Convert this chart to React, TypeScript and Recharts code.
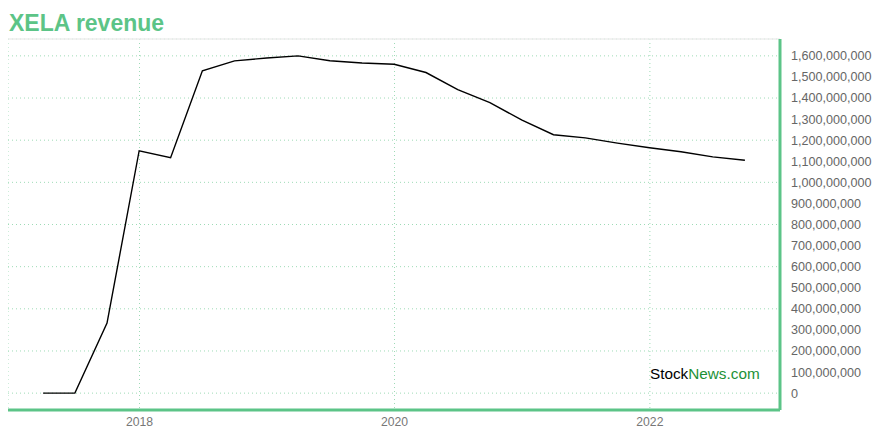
import { CartesianGrid, Line, LineChart, ReferenceLine, XAxis, YAxis } from 'recharts'

const quarterEnds = [
  '2017-03-31', '2017-06-30', '2017-09-30', '2017-12-31',
  '2018-03-31', '2018-06-30', '2018-09-30', '2018-12-31',
  '2019-03-31', '2019-06-30', '2019-09-30', '2019-12-31',
  '2020-03-31', '2020-06-30', '2020-09-30', '2020-12-31',
  '2021-03-31', '2021-06-30', '2021-09-30', '2021-12-31',
  '2022-03-31', '2022-06-30', '2022-09-30',
]

// trailing revenue, USD
const revenue = [
  0, 0, 332e6, 1150e6,
  1117e6, 1529e6, 1576e6, 1590e6,
  1600e6, 1577e6, 1566e6, 1560e6,
  1521e6, 1440e6, 1378e6, 1295e6,
  1226e6, 1211e6, 1186e6, 1164e6,
  1145e6, 1121e6, 1105e6,
]

const yearTicks = ['2018-01-01', '2020-01-01', '2022-01-01']
const revenueTicks = Array.from({ length: 17 }, (_, i) => i * 100e6)

const GREEN = '#5cc487'
const FONT = '"Liberation Sans", Arial, sans-serif'

const data = quarterEnds.map((d, i) => ({ t: Date.parse(d), value: revenue[i] }))

const tMin = data[0].t
const tMax = data[data.length - 1].t
const tPad = (tMax - tMin) * 0.05
const vMax = Math.max(...revenue)
const vPad = vMax * 0.05

export default function App() {
  return (
    <div style={{ position: 'relative', width: 872, height: 424, fontFamily: FONT }}>
      <div
        style={{
          position: 'absolute',
          left: 1,
          top: 1,
          fontSize: 23,
          fontWeight: 'bold',
          color: GREEN,
          lineHeight: '28px',
        }}
      >
        XELA revenue
      </div>
      <LineChart
        width={872}
        height={424}
        data={data}
        margin={{ top: 31, right: 8, bottom: 0, left: 0 }}
        style={{ overflow: 'visible' }}
      >
        <CartesianGrid stroke="#9edbb6" strokeDasharray="1 3" />
        <ReferenceLine y={vMax + vPad} stroke="#eeeeee" strokeWidth={1.5} />
        <XAxis
          dataKey="t"
          type="number"
          scale="time"
          domain={[tMin - tPad, tMax + tPad]}
          ticks={yearTicks.map((d) => Date.parse(d))}
          tickFormatter={(v) => String(new Date(v).getUTCFullYear())}
          height={22}
          tickLine={false}
          tickSize={5}
          tick={{ fill: '#777', fontSize: 12.2, fontFamily: FONT }}
          axisLine={{ stroke: GREEN, strokeWidth: 3 }}
        />
        <YAxis
          orientation="right"
          width={92}
          domain={[-vPad, vMax + vPad]}
          ticks={revenueTicks}
          allowDataOverflow
          tickFormatter={(v) => Number(v).toLocaleString('en-US')}
          tickLine={false}
          tickSize={0}
          tickMargin={11}
          tick={{ fill: '#666', fontSize: 12.6, fontFamily: FONT }}
          axisLine={{ stroke: GREEN, strokeWidth: 3 }}
        />
        <Line
          dataKey="value"
          stroke="#000"
          strokeWidth={1.4}
          dot={false}
          isAnimationActive={false}
        />
      </LineChart>
      <div style={{ position: 'absolute', left: 642, top: 357, fontSize: 15.3 }}>
        <span style={{ color: '#000' }}>Stock</span>
        <span style={{ color: '#1c9136' }}>News.com</span>
      </div>
    </div>
  )
}
